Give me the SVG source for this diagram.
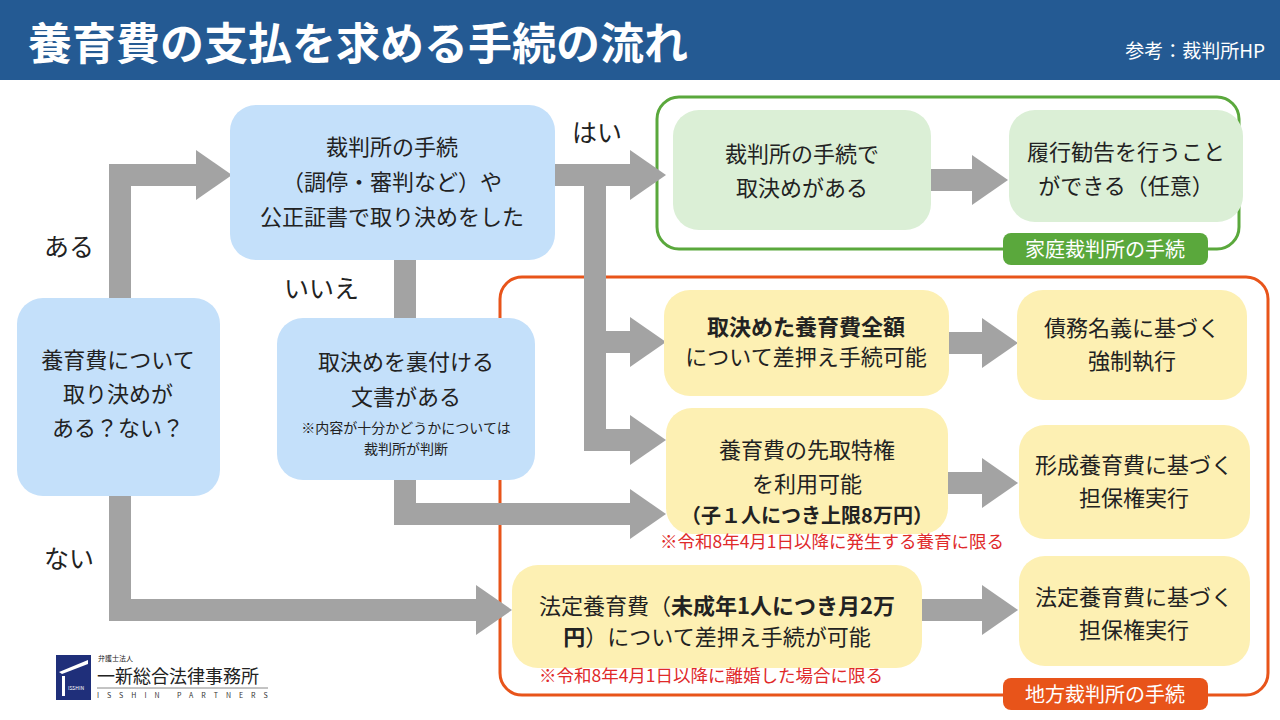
<svg xmlns="http://www.w3.org/2000/svg" width="1280" height="720" viewBox="0 0 1280 720">
<defs>
<marker id="ah" viewBox="0 0 36 50" refX="0" refY="25" markerWidth="36" markerHeight="50" markerUnits="userSpaceOnUse" orient="auto"><path d="M0,0 L36,25 L0,50 Z" fill="#a3a3a3"/></marker>
<style>
text{font-family:"Noto Sans CJK JP","Noto Sans",sans-serif;fill:#222;}
.t{font-size:22px;text-anchor:middle;}
.b{font-weight:bold;}
.s{font-size:14px;text-anchor:middle;}
.r{font-size:17.5px;fill:#e02a2a;text-anchor:middle;}
.lab{font-size:25px;}
.blue{fill:#c4e0fa;}
.grn{fill:#dbefd6;}
.yel{fill:#fdf0b3;}
.c{fill:none;stroke:#a3a3a3;stroke-width:22;stroke-linejoin:miter;}
</style>
</defs>
<rect width="1280" height="720" fill="#fff"/>
<g id="header">
<rect x="0" y="0" width="1280" height="80" fill="#245a93"/>
<text x="28" y="60" style="font-size:44px;font-weight:bold;fill:#fff">養育費の支払を求める手続の流れ</text>
<text x="1265" y="58" style="font-size:19px;fill:#fff;text-anchor:end">参考：裁判所HP</text>
</g>
<g id="containers">
<rect x="657" y="97" width="582" height="152" rx="22" fill="none" stroke="#5aa83c" stroke-width="3"/>
<rect x="500" y="277" width="768" height="418" rx="22" fill="none" stroke="#e8541a" stroke-width="3"/>
</g>
<g id="connectors">
<polyline class="c" points="120,298 120,175 196,175" marker-end="url(#ah)"/>
<polyline class="c" points="120,496 120,610 476,610" marker-end="url(#ah)"/>
<polyline class="c" points="555,175 630,175" marker-end="url(#ah)"/>
<polyline class="c" points="595,175 595,440 630,440" marker-end="url(#ah)"/>
<polyline class="c" points="595,342 630,342" marker-end="url(#ah)"/>
<polyline class="c" points="405,260 405,318"/>
<polyline class="c" points="405,480 405,514 630,514" marker-end="url(#ah)"/>
<polyline class="c" points="931,180 972,180" marker-end="url(#ah)"/>
<polyline class="c" points="949,343 982,343" marker-end="url(#ah)"/>
<polyline class="c" points="948,483 982,483" marker-end="url(#ah)"/>
<polyline class="c" points="922,610 982,610" marker-end="url(#ah)"/>
</g>
<g id="labels">
<text x="44" y="256" class="lab">ある</text>
<text x="44" y="568" class="lab">ない</text>
<text x="572" y="142" class="lab">はい</text>
<text x="284" y="298" class="lab">いいえ</text>
</g>
<g id="nodeA"><rect x="17" y="298" width="203" height="198" rx="26" class="blue"/>
<text x="118" y="368" class="t">養育費について</text><text x="118" y="402" class="t">取り決めが</text><text x="118" y="436" class="t">ある？ない？</text></g>
<g id="nodeB"><rect x="230" y="105" width="325" height="155" rx="26" class="blue"/>
<text x="392" y="155" class="t">裁判所の手続</text><text x="392" y="190" class="t">（調停・審判など）や</text><text x="392" y="225" class="t">公正証書で取り決めをした</text></g>
<g id="nodeC"><rect x="277" y="318" width="258" height="162" rx="26" class="blue"/>
<text x="406" y="370" class="t">取決めを裏付ける</text><text x="406" y="405" class="t">文書がある</text>
<text x="406" y="433" class="s">※内容が十分かどうかについては</text><text x="406" y="454" class="s">裁判所が判断</text></g>
<g id="nodeG1"><rect x="673" y="110" width="258" height="120" rx="26" class="grn"/>
<text x="802" y="162" class="t">裁判所の手続で</text><text x="802" y="196" class="t">取決めがある</text></g>
<g id="nodeG2"><rect x="1009" y="110" width="234" height="112" rx="26" class="grn"/>
<text x="1126" y="160" class="t">履行勧告を行うこと</text><text x="1126" y="194" class="t">ができる（任意）</text></g>
<g id="labelFamily"><rect x="1003" y="233" width="205" height="32" rx="8" fill="#5aa83c"/>
<text x="1105" y="257" style="font-size:20px;fill:#fff;text-anchor:middle">家庭裁判所の手続</text></g>
<g id="nodeY1"><rect x="664" y="290" width="285" height="106" rx="26" class="yel"/>
<text x="806" y="335" class="t b">取決めた養育費全額</text><text x="806" y="365" class="t">について差押え手続可能</text></g>
<g id="nodeY2"><rect x="1017" y="290" width="230" height="110" rx="26" class="yel"/>
<text x="1132" y="336" class="t">債務名義に基づく</text><text x="1132" y="369" class="t">強制執行</text></g>
<g id="nodeY3"><rect x="666" y="408" width="282" height="126" rx="26" class="yel"/>
<text x="807" y="458" class="t">養育費の先取特権</text><text x="807" y="492" class="t">を利用可能</text><text x="807" y="523" class="t b" style="font-size:20px">（子１人につき上限8万円）</text>
<text x="832" y="548" class="r">※令和8年4月1日以降に発生する養育に限る</text></g>
<g id="nodeY4"><rect x="1019" y="425" width="231" height="114" rx="26" class="yel"/>
<text x="1134" y="473" class="t">形成養育費に基づく</text><text x="1134" y="506" class="t">担保権実行</text></g>
<g id="nodeY5"><rect x="512" y="565" width="410" height="103" rx="26" class="yel"/>
<text x="717" y="614" class="t">法定養育費（<tspan class="b">未成年1人につき月2万</tspan></text><text x="717" y="645" class="t"><tspan class="b">円</tspan>）について差押え手続が可能</text>
<text x="711" y="682" class="r">※令和8年4月1日以降に離婚した場合に限る</text></g>
<g id="nodeY6"><rect x="1019" y="556" width="231" height="110" rx="26" class="yel"/>
<text x="1134" y="605" class="t">法定養育費に基づく</text><text x="1134" y="638" class="t">担保権実行</text></g>
<g id="labelDistrict"><rect x="1003" y="678" width="205" height="32" rx="8" fill="#e8541a"/>
<text x="1105" y="702" style="font-size:20px;fill:#fff;text-anchor:middle">地方裁判所の手続</text></g>
<g id="logo">
<rect x="56" y="655" width="35" height="45" fill="#1f2f7a"/>
<path d="M59,672 L88,660 L88,664 L62,674 Z" fill="#fff"/>
<rect x="62" y="676" width="3" height="20" fill="#fff"/>
<text x="76" y="690" style="font-size:5px;fill:#fff;text-anchor:middle">ISSHIN</text>
<text x="98" y="661" style="font-size:7px;fill:#222">弁護士法人</text>
<text x="97" y="683" style="font-size:18px;fill:#222">一新総合法律事務所</text>
<line x1="97" y1="688" x2="268" y2="688" stroke="#888" stroke-width="1"/>
<text x="97" y="698" style="font-size:7px;fill:#333;letter-spacing:8px">ISSHIN PARTNERS</text>
</g>
</svg>
